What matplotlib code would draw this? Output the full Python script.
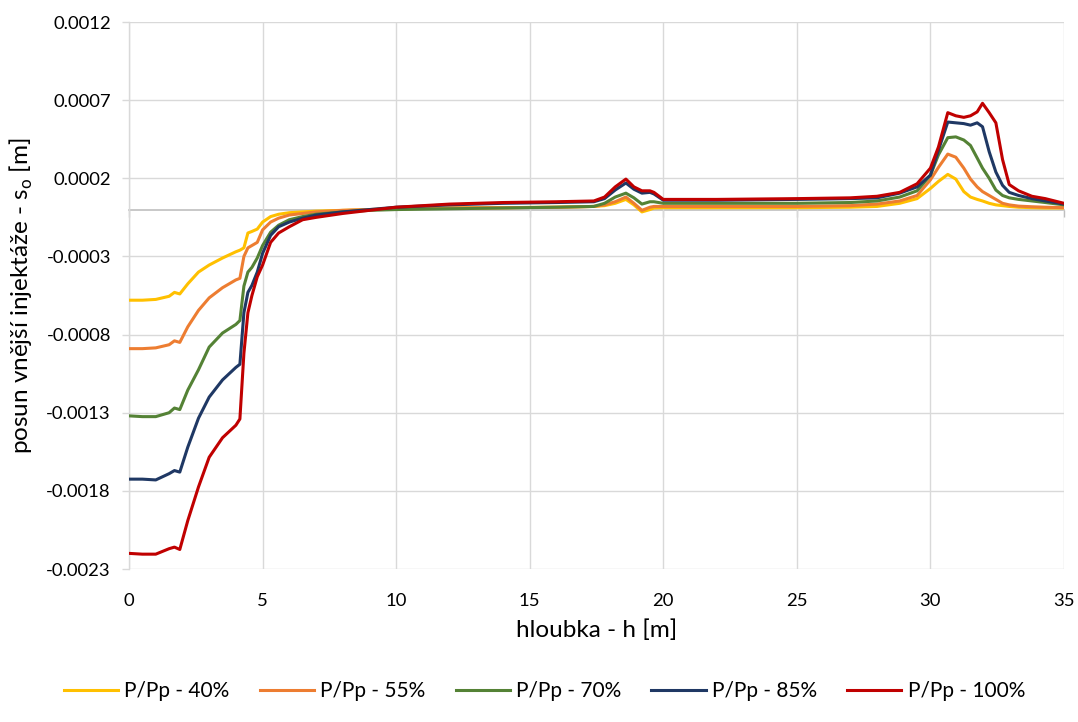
import matplotlib
matplotlib.use("Agg")
import matplotlib.pyplot as plt
import numpy as np

plt.rcParams['font.family'] = ['Lato', 'DejaVu Sans']

# depth along the anchor [m]
hloubka = [0, 0.5, 1.0, 1.5, 1.7, 1.9, 2.2, 2.6, 3.0, 3.5,
           4.0, 4.15, 4.3, 4.45, 4.6, 4.8, 5.0, 5.3, 5.6, 6.0,
           6.5, 7.0, 8.0, 9.0, 10.0, 12.0, 14.0, 16.0, 17.4, 17.8,
           18.2, 18.6, 18.9, 19.2, 19.5, 19.65, 20.0, 22.0, 25.0, 27.0,
           28.0, 28.85, 29.5, 30.0, 30.3, 30.65, 30.95, 31.25, 31.5, 31.75,
           31.95, 32.2, 32.45, 32.7, 32.95, 33.3, 33.8, 34.3, 35.0]

# displacement of the outer grout body, in units of 1e-4 m
SCALE = 1e-4
s_40 = [-5.8, -5.8, -5.75, -5.55, -5.3, -5.4, -4.75, -4.0, -3.55, -3.1,
        -2.7, -2.6, -2.45, -1.5, -1.4, -1.25, -0.8, -0.45, -0.3, -0.2,
        -0.15, -0.1, -0.05, 0.0, 0.05, 0.1, 0.12, 0.15, 0.2, 0.25,
        0.4, 0.65, 0.3, -0.15, 0.0, 0.1, 0.12, 0.12, 0.12, 0.15,
        0.2, 0.4, 0.7, 1.35, 1.8, 2.25, 1.95, 1.15, 0.8, 0.65,
        0.55, 0.4, 0.3, 0.25, 0.2, 0.15, 0.12, 0.1, 0.1]
s_55 = [-8.9, -8.9, -8.85, -8.65, -8.4, -8.5, -7.5, -6.45, -5.65, -5.0,
        -4.5, -4.4, -3.0, -2.45, -2.3, -2.1, -1.3, -0.8, -0.55, -0.35,
        -0.25, -0.15, -0.05, 0.0, 0.05, 0.1, 0.12, 0.15, 0.2, 0.3,
        0.5, 0.8, 0.4, -0.05, 0.15, 0.2, 0.2, 0.2, 0.2, 0.25,
        0.35, 0.55, 0.9, 1.9, 2.7, 3.55, 3.35, 2.65, 1.95, 1.45,
        1.15, 0.9, 0.65, 0.4, 0.3, 0.22, 0.18, 0.15, 0.12]
s_70 = [-13.2, -13.25, -13.25, -13.0, -12.7, -12.8, -11.55, -10.25, -8.8, -7.9,
        -7.35, -7.1, -4.9, -4.0, -3.7, -3.1, -2.3, -1.45, -1.0, -0.65,
        -0.45, -0.3, -0.15, -0.05, 0.0, 0.05, 0.1, 0.15, 0.2, 0.4,
        0.8, 1.05, 0.75, 0.35, 0.5, 0.5, 0.4, 0.4, 0.4, 0.45,
        0.55, 0.8, 1.2, 2.2, 3.5, 4.6, 4.65, 4.45, 4.1, 3.3,
        2.65, 2.0, 1.25, 0.9, 0.75, 0.65, 0.55, 0.45, 0.3]
s_85 = [-17.25, -17.25, -17.3, -16.9, -16.7, -16.8, -15.2, -13.35, -12.0, -10.9,
        -10.1, -9.9, -6.6, -5.3, -4.85, -4.0, -2.8, -1.65, -1.1, -0.8,
        -0.55, -0.35, -0.15, 0.0, 0.15, 0.3, 0.4, 0.45, 0.5, 0.7,
        1.25, 1.7, 1.3, 1.05, 1.1, 1.0, 0.6, 0.6, 0.65, 0.7,
        0.75, 1.05, 1.45, 2.2, 3.8, 5.6, 5.55, 5.5, 5.4, 5.55,
        5.3, 3.7, 2.4, 1.55, 1.1, 0.9, 0.7, 0.55, 0.35]
s_100 = [-22.0, -22.05, -22.05, -21.7, -21.6, -21.75, -19.9, -17.75, -15.85, -14.6,
         -13.8, -13.4, -9.2, -6.6, -5.5, -4.3, -3.55, -2.1, -1.5, -1.1,
         -0.65, -0.5, -0.25, -0.05, 0.15, 0.35, 0.45, 0.5, 0.55, 0.8,
         1.45, 1.95, 1.45, 1.2, 1.2, 1.1, 0.65, 0.65, 0.7, 0.75,
         0.85, 1.1, 1.65, 2.65, 4.0, 6.2, 6.0, 5.9, 6.0, 6.25,
         6.8, 6.2, 5.55, 3.2, 1.6, 1.2, 0.85, 0.7, 0.4]

serie = [s_40, s_55, s_70, s_85, s_100]
popisky = ['P/Pp - 40%', 'P/Pp - 55%', 'P/Pp - 70%', 'P/Pp - 85%', 'P/Pp - 100%']
barvy = ['#FFC000', '#ED7D31', '#548235', '#1F3864', '#C00000']

y_ticks = [-0.0023, -0.0018, -0.0013, -0.0008, -0.0003, 0.0002, 0.0007, 0.0012]
x_ticks = [0, 5, 10, 15, 20, 25, 30, 35]

fig = plt.figure(figsize=(10.78, 7.22), dpi=100)
ax = fig.add_axes([0.1197, 0.2119, 0.8673, 0.7576])

for s, lab, c in zip(serie, popisky, barvy):
    ax.plot(hloubka, np.array(s) * SCALE, color=c, lw=2.2, label=lab,
            solid_joinstyle='round', zorder=3)

ax.set_xlim(0, 35)
ax.set_ylim(y_ticks[0], y_ticks[-1])
ax.set_xticks(x_ticks)
ax.set_yticks(y_ticks)
ax.set_yticklabels(['%.4f' % t for t in y_ticks])

grid_c = '#d9d9d9'
ax.grid(True, color=grid_c, lw=1.0, zorder=0)
for sp in ['top', 'right', 'bottom']:
    ax.spines[sp].set_visible(False)
ax.spines['left'].set_color(grid_c)
ax.spines['left'].set_linewidth(1.0)
ax.tick_params(axis='y', direction='out', length=5, width=1.0, color=grid_c,
               labelsize=13.3, pad=8)
ax.tick_params(axis='x', length=0, labelsize=13.3, pad=17)

# horizontal axis crossing at zero, small ticks pointing down
frac0 = (0 - y_ticks[0]) / (y_ticks[-1] - y_ticks[0])
sec = ax.secondary_xaxis(frac0)
sec.set_xticks(x_ticks)
sec.set_xticklabels([])
sec.tick_params(direction='in', length=5, width=1.0, color='#bfbfbf')
for sp in sec.spines.values():
    sp.set_color('#bfbfbf')
    sp.set_linewidth(1.2)

ax.set_xlabel('hloubka - h [m]', fontsize=17.5, labelpad=8)
ax.set_ylabel('posun vnější injektáže - s$_\\mathregular{o}$ [m]', fontsize=17.5, labelpad=8)

fig.legend(loc='center', bbox_to_anchor=(0.505, 0.043), ncol=5, frameon=False,
           fontsize=15, handlelength=2.6, handletextpad=0.3, columnspacing=1.45)

fig.savefig('out.png', dpi=100)
